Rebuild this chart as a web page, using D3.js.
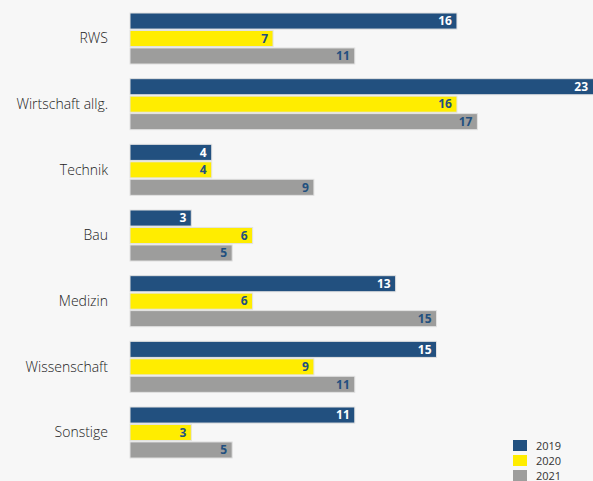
<!DOCTYPE html>
<html>
<head>
<meta charset="utf-8">
<script src="https://cdn.jsdelivr.net/npm/d3@7"></script>
<style>
  body { margin: 0; background: #f7f7f7; }
  svg { display: block; font-family: "Open Sans", sans-serif; }
</style>
</head>
<body>
<div id="chart"></div>
<script>
const categories = ["RWS", "Wirtschaft allg.", "Technik", "Bau", "Medizin", "Wissenschaft", "Sonstige"];
const years = ["2019", "2020", "2021"];
const values2019 = [16, 23, 4, 3, 13, 15, 11];
const values2020 = [7, 16, 4, 6, 6, 9, 3];
const values2021 = [11, 17, 9, 5, 15, 11, 5];
const colors = ["#22507f", "#ffed00", "#9d9d9c"];
const labelColors = ["#ffffff", "#22507f", "#22507f"];

const width = 593, height = 481;
const x0 = 130;

const series = [values2019, values2020, values2021];
const rows = categories.map((c, i) => ({
  cat: c,
  vals: years.map((y, j) => ({ year: y, idx: j, v: series[j][i] }))
}));

const svg = d3.select('#chart').append('svg')
  .attr('width', width)
  .attr('height', height);

const x = d3.scaleLinear().domain([0, 23]).range([x0, x0 + 470]);

const y = d3.scaleBand()
  .domain(categories)
  .range([13, 13 + 6 * 65.67 + 51])
  .paddingInner(0.223)
  .paddingOuter(0);

const yInner = d3.scaleBand()
  .domain(years)
  .range([0, y.bandwidth()])
  .paddingInner(0.08);

const groups = svg.selectAll('g.grp')
  .data(rows)
  .enter()
  .append('g')
  .attr('class', 'grp')
  .attr('transform', d => `translate(0,${y(d.cat)})`);

groups.append('text')
  .attr('x', 108)
  .attr('y', y.bandwidth() / 2)
  .attr('dy', '0.35em')
  .attr('text-anchor', 'end')
  .attr('font-size', 14)
  .attr('font-weight', 300)
  .attr('fill', '#222')
  .text(d => d.cat);

groups.selectAll('rect')
  .data(d => d.vals)
  .enter()
  .append('rect')
  .attr('x', x(0))
  .attr('y', d => yInner(d.year))
  .attr('width', d => x(d.v) - x(0))
  .attr('height', yInner.bandwidth())
  .attr('fill', d => colors[d.idx])
  .attr('stroke', '#e2e2e2')
  .attr('stroke-width', 1);

groups.selectAll('text.val')
  .data(d => d.vals)
  .enter()
  .append('text')
  .attr('class', 'val')
  .attr('x', d => Math.min(x(d.v), width) - 5)
  .attr('y', d => yInner(d.year) + yInner.bandwidth() / 2)
  .attr('dy', '0.36em')
  .attr('text-anchor', 'end')
  .attr('font-size', 12)
  .attr('font-weight', 'bold')
  .attr('fill', d => labelColors[d.idx])
  .text(d => d.v);

const legend = svg.append('g')
  .attr('transform', 'translate(513,440)');

const li = legend.selectAll('g')
  .data(years)
  .enter()
  .append('g')
  .attr('transform', (d, i) => `translate(0,${i * 15})`);

li.append('rect')
  .attr('width', 14)
  .attr('height', 11)
  .attr('fill', (d, i) => colors[i]);

li.append('text')
  .attr('x', 23)
  .attr('y', 6)
  .attr('dy', '0.35em')
  .attr('font-size', 11)
  .attr('fill', '#333')
  .text(d => d);
</script>
</body>
</html>
